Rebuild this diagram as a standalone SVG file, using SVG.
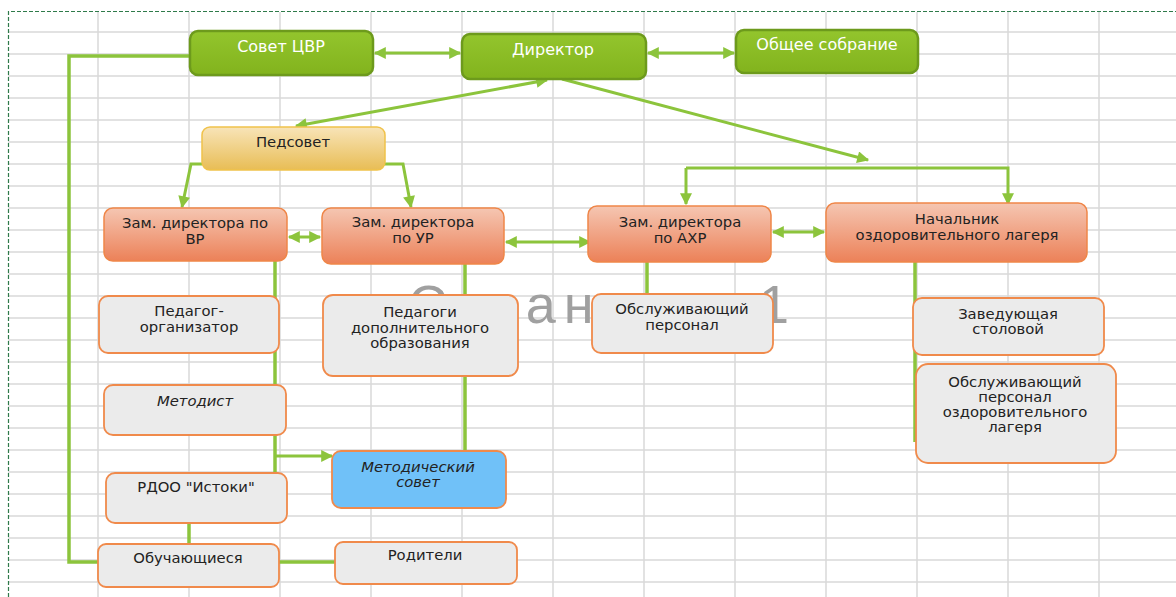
<svg xmlns="http://www.w3.org/2000/svg" width="1176" height="597" viewBox="0 0 1176 597">
<style>
.grid line{stroke:#d9d9d9;stroke-width:1.5}
.c{fill:none;stroke:#8cc43c;stroke-width:3.5}
.ca{fill:none;stroke:#8cc43c;stroke-width:3;marker-end:url(#ah)}
.cb{fill:none;stroke:#8cc43c;stroke-width:3;marker-end:url(#ah);marker-start:url(#ah)}
text{font-family:"DejaVu Sans","Liberation Sans",sans-serif;font-size:14.8px;text-anchor:middle;fill:#222}
.w{fill:#fff;font-size:16px}
.it{font-style:italic}
.wm{font-family:"Liberation Sans",sans-serif;font-size:54px;text-anchor:start;fill:#a0a0a0;letter-spacing:8px}
.g rect{fill:url(#gg);stroke:#6d9a1c;stroke-width:2.5}
.o rect{fill:url(#og);stroke:#ef8648;stroke-width:1.5}
.y rect{fill:url(#yg);stroke:#f0c24b;stroke-width:1.5}
.n rect{fill:#ebebeb;stroke:#f08a4b;stroke-width:1.8}
.b rect{fill:#70c1f8;stroke:#f08a4b;stroke-width:1.8}
</style>
<defs>
<linearGradient id="gg" x1="0" y1="0" x2="0" y2="1"><stop offset="0" stop-color="#93c52d"/><stop offset="1" stop-color="#82b31d"/></linearGradient>
<linearGradient id="og" x1="0" y1="0" x2="0" y2="1"><stop offset="0" stop-color="#f5c6b2"/><stop offset="1" stop-color="#ec8158"/></linearGradient>
<linearGradient id="yg" x1="0" y1="0" x2="0" y2="1"><stop offset="0" stop-color="#f8e4b8"/><stop offset="1" stop-color="#e8bd55"/></linearGradient>
<marker id="ah" viewBox="0 0 10 10" refX="9" refY="5" markerWidth="13" markerHeight="12" markerUnits="userSpaceOnUse" orient="auto-start-reverse"><path d="M0,0L10,5L0,10z" fill="#8cc43c"/></marker>
</defs>
<rect width="1176" height="597" fill="#fff"/>
<g class="grid">
<line x1="98" y1="12" x2="98" y2="597"/><line x1="189" y1="12" x2="189" y2="597"/><line x1="280" y1="12" x2="280" y2="597"/><line x1="371" y1="12" x2="371" y2="597"/><line x1="462" y1="12" x2="462" y2="597"/><line x1="553" y1="12" x2="553" y2="597"/><line x1="644" y1="12" x2="644" y2="597"/><line x1="735" y1="12" x2="735" y2="597"/><line x1="826" y1="12" x2="826" y2="597"/><line x1="917" y1="12" x2="917" y2="597"/><line x1="1008" y1="12" x2="1008" y2="597"/><line x1="1099" y1="12" x2="1099" y2="597"/>
<line x1="8" y1="32" x2="1176" y2="32"/><line x1="8" y1="54" x2="1176" y2="54"/><line x1="8" y1="76" x2="1176" y2="76"/><line x1="8" y1="98" x2="1176" y2="98"/><line x1="8" y1="120" x2="1176" y2="120"/><line x1="8" y1="142" x2="1176" y2="142"/><line x1="8" y1="164" x2="1176" y2="164"/><line x1="8" y1="186" x2="1176" y2="186"/><line x1="8" y1="208" x2="1176" y2="208"/><line x1="8" y1="230" x2="1176" y2="230"/><line x1="8" y1="252" x2="1176" y2="252"/><line x1="8" y1="274" x2="1176" y2="274"/><line x1="8" y1="296" x2="1176" y2="296"/><line x1="8" y1="318" x2="1176" y2="318"/><line x1="8" y1="340" x2="1176" y2="340"/><line x1="8" y1="362" x2="1176" y2="362"/><line x1="8" y1="384" x2="1176" y2="384"/><line x1="8" y1="406" x2="1176" y2="406"/><line x1="8" y1="428" x2="1176" y2="428"/><line x1="8" y1="450" x2="1176" y2="450"/><line x1="8" y1="472" x2="1176" y2="472"/><line x1="8" y1="494" x2="1176" y2="494"/><line x1="8" y1="516" x2="1176" y2="516"/><line x1="8" y1="538" x2="1176" y2="538"/><line x1="8" y1="560" x2="1176" y2="560"/><line x1="8" y1="582" x2="1176" y2="582"/>
</g>
<path d="M8.5,597V11.5H1176" fill="none" stroke="#2f7a4a" stroke-width="1.2" stroke-dasharray="4,2"/>
<g id="watermark"><text class="wm" x="408" y="323">Стран</text><text class="wm" x="759" y="323">1</text></g>
<g id="connectors">
<path class="cb" d="M375,53H460"/>
<path class="cb" d="M648,53H734"/>
<path class="cb" d="M296,126L547,80"/>
<path class="ca" d="M562,79L868,160"/>
<path class="ca" d="M686,168H1008V204"/>
<path class="ca" d="M686,168V204"/>
<path class="ca" d="M202,164H191L182,207"/>
<path class="ca" d="M384,164H403L411,207"/>
<path class="cb" d="M289,237H320"/>
<path class="cb" d="M506,242H590"/>
<path class="cb" d="M773,232H824"/>
<path class="c" d="M275,261V473"/>
<path class="ca" d="M275,456H332"/>
<path class="c" d="M465,264V295M465,376V451"/>
<path class="c" d="M647,262V294"/>
<path class="c" d="M915,262V442"/>
<path class="c" d="M190,56H69V562H98"/>
<path class="c" d="M189,523V544"/>
<path class="c" d="M279,562H335"/>
</g>
<g id="sovet" class="g"><rect x="190" y="31" width="183" height="44" rx="8"/><text class="w" x="281" y="52">Совет ЦВР</text></g>
<g id="director" class="g"><rect x="462" y="34" width="184" height="45" rx="8"/><text class="w" x="553" y="55">Директор</text></g>
<g id="sobranie" class="g"><rect x="736" y="30" width="182" height="43" rx="8"/><text class="w" x="827" y="50">Общее собрание</text></g>
<g id="pedsovet" class="y"><rect x="202" y="127" width="183" height="43" rx="8"/><text x="293" y="147">Педсовет</text></g>
<g id="zam-vr" class="o"><rect x="104" y="208" width="183" height="53" rx="9"/><text x="195" y="228">Зам. директора по</text><text x="195" y="244">ВР</text></g>
<g id="zam-ur" class="o"><rect x="322" y="208" width="182" height="56" rx="9"/><text x="413" y="227">Зам. директора</text><text x="413" y="243">по УР</text></g>
<g id="zam-ahr" class="o"><rect x="588" y="206" width="183" height="56" rx="9"/><text x="680" y="227">Зам. директора</text><text x="680" y="243">по АХР</text></g>
<g id="nachalnik" class="o"><rect x="826" y="203" width="261" height="59" rx="9"/><text x="957" y="224">Начальник</text><text x="957" y="240">оздоровительного лагеря</text></g>
<g id="pedagog-org" class="n"><rect x="99" y="296" width="180" height="57" rx="9"/><text x="189" y="316">Педагог-</text><text x="189" y="332">организатор</text></g>
<g id="pedagogi-do" class="n"><rect x="323" y="295" width="195" height="81" rx="10"/><text x="420" y="317">Педагоги</text><text x="420" y="333">дополнительного</text><text x="420" y="348">образования</text></g>
<g id="obsl" class="n"><rect x="592" y="294" width="181" height="59" rx="9"/><text x="682" y="314">Обслуживающий</text><text x="682" y="330">персонал</text></g>
<g id="zav-stol" class="n"><rect x="913" y="298" width="191" height="57" rx="9"/><text x="1008" y="319">Заведующая</text><text x="1008" y="334">столовой</text></g>
<g id="obsl-lager" class="n"><rect x="916" y="364" width="200" height="99" rx="12"/><text x="1015" y="387">Обслуживающий</text><text x="1015" y="402">персонал</text><text x="1015" y="417">оздоровительного</text><text x="1015" y="432">лагеря</text></g>
<g id="metodist" class="n"><rect x="104" y="385" width="182" height="50" rx="9"/><text class="it" x="195" y="406">Методист</text></g>
<g id="rdoo" class="n"><rect x="106" y="473" width="181" height="50" rx="9"/><text x="196" y="492">РДОО "Истоки"</text></g>
<g id="metod-sovet" class="b"><rect x="332" y="451" width="174" height="57" rx="9"/><text class="it" x="418" y="472">Методический</text><text class="it" x="418" y="487">совет</text></g>
<g id="obuch" class="n"><rect x="98" y="544" width="181" height="43" rx="8"/><text x="188" y="563">Обучающиеся</text></g>
<g id="roditeli" class="n"><rect x="335" y="542" width="182" height="42" rx="8"/><text x="425" y="560">Родители</text></g>
</svg>
